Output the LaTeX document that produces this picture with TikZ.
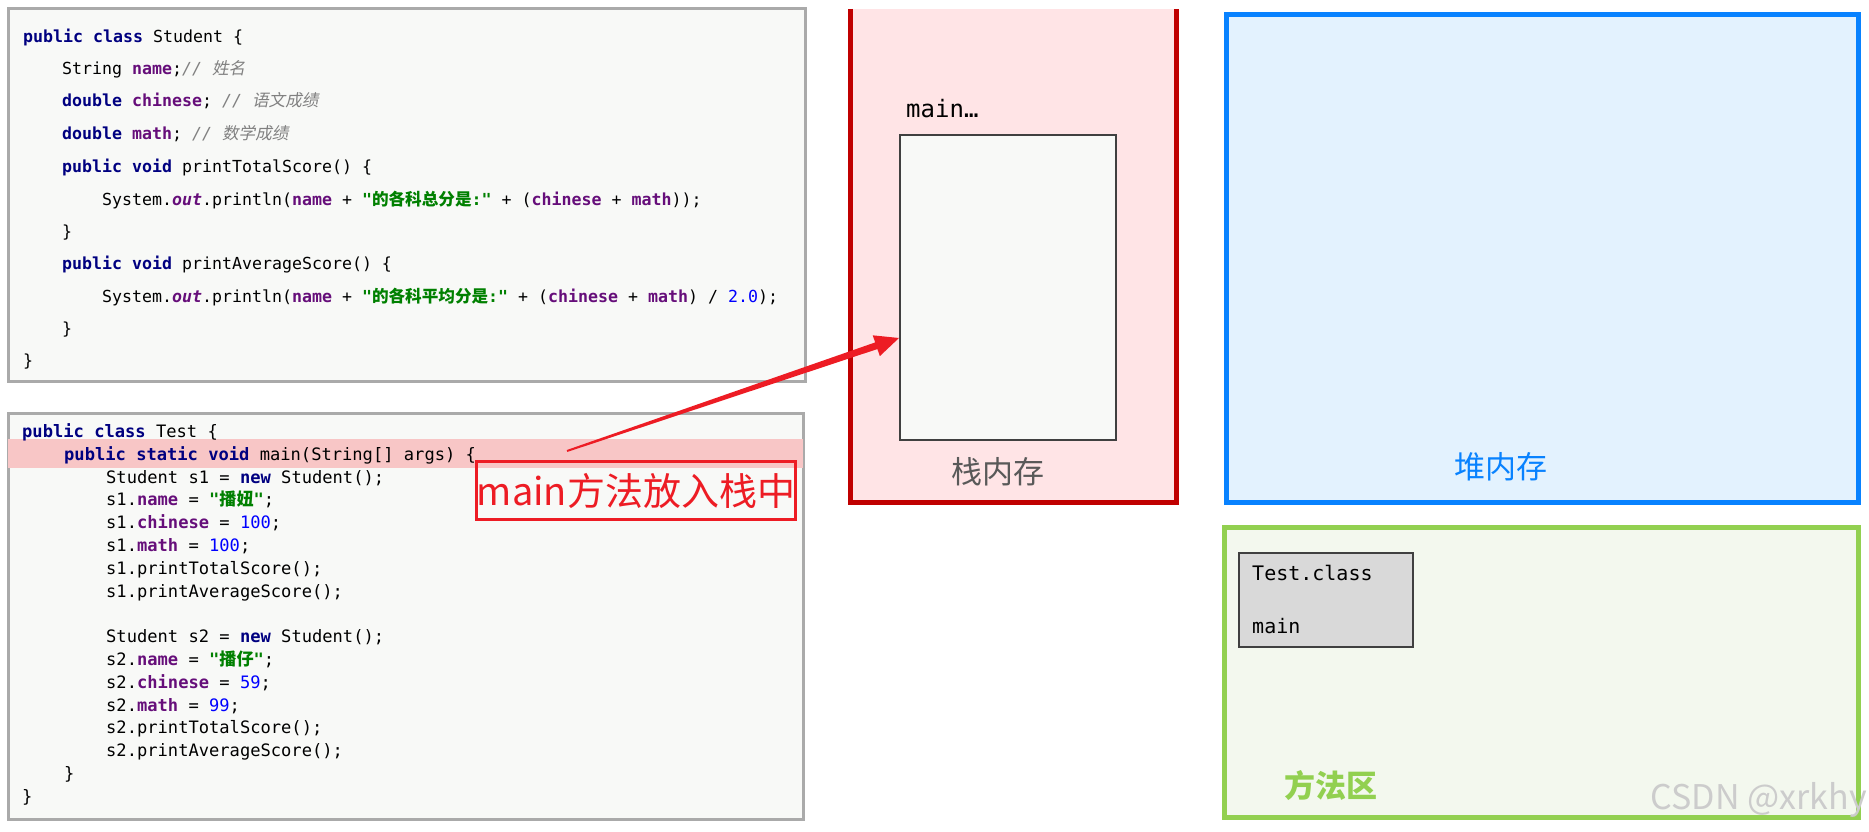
\documentclass[tikz,border=0pt]{standalone}
\usepackage{fontspec}
\usepackage{tikz}
\usetikzlibrary{arrows.meta, positioning, calc}

\newfontfamily\codefont{DejaVu Sans Mono}
\newfontfamily\cjk{Noto Sans CJK SC}
\newfontfamily\cjkslant[FakeSlant=0.2]{Noto Sans CJK SC}

\definecolor{kwnavy}{RGB}{0,0,128}
\definecolor{fldpurple}{RGB}{102,14,122}
\definecolor{strgreen}{RGB}{0,128,0}
\definecolor{numblue}{RGB}{0,0,255}
\definecolor{cmtgray}{RGB}{128,128,128}
\definecolor{codebg}{RGB}{248,249,247}
\definecolor{codeedge}{RGB}{170,170,170}
\definecolor{bandpink}{RGB}{248,198,198}
\definecolor{stackred}{RGB}{192,0,0}
\definecolor{stackfill}{RGB}{255,228,230}
\definecolor{stacktext}{RGB}{89,89,89}
\definecolor{heapblue}{RGB}{8,130,255}
\definecolor{heapfill}{RGB}{227,242,254}
\definecolor{methgreen}{RGB}{146,208,80}
\definecolor{methfill}{RGB}{243,248,238}
\definecolor{classgray}{RGB}{217,217,217}
\definecolor{frameedge}{RGB}{64,64,64}
\definecolor{arrowred}{RGB}{237,28,36}

% java highlighting
\newcommand{\jkw}[1]{\textcolor{kwnavy}{\bfseries #1}}
\newcommand{\jfld}[1]{\textcolor{fldpurple}{\bfseries #1}}
\newcommand{\jstr}[1]{\textcolor{strgreen}{\bfseries #1}}
\newcommand{\jnum}[1]{\textcolor{numblue}{#1}}
\newcommand{\jcmt}[1]{\textcolor{cmtgray}{\itshape #1}}
\newcommand{\zh}[1]{{\cjk #1}}
\newcommand{\zhit}[1]{{\cjkslant\upshape #1}}

\begin{document}
\begin{tikzpicture}[x=1pt, y=-1pt, every node/.style={inner sep=0pt},
  stucode/.style={anchor=base west, font=\codefont\fontsize{16.6}{18}\selectfont},
  tstcode/.style={anchor=base west, font=\codefont\fontsize{17.1}{19}\selectfont},
  memlabel/.style={font=\cjk\fontsize{31}{33}\selectfont}]
  \useasboundingbox (0,0) rectangle (1869,832);

  % Student.java
  \draw[codeedge, line width=3pt, fill=codebg] (8,9) rectangle (805,381);
  \node[stucode] (stu1) at (23,43) {\jkw{public class} Student \{};
  \node[stucode] (stu2) at (62,75) {String \jfld{name};\jcmt{// \zhit{姓名}}};
  \node[stucode] (stu3) at (62,107) {\jkw{double} \jfld{chinese}; \jcmt{// \zhit{语文成绩}}};
  \node[stucode] (stu4) at (62,140) {\jkw{double} \jfld{math}; \jcmt{// \zhit{数学成绩}}};
  \node[stucode] (stu5) at (62,172) {\jkw{public void} printTotalScore() \{};
  \node[stucode] (stu6) at (102,205) {System.\jfld{\itshape out}.println(\jfld{name} + \jstr{"\zh{的各科总分是}:"} + (\jfld{chinese} + \jfld{math}));};
  \node[stucode] (stu7) at (62,237) {\}};
  \node[stucode] (stu8) at (62,269) {\jkw{public void} printAverageScore() \{};
  \node[stucode] (stu9) at (102,302) {System.\jfld{\itshape out}.println(\jfld{name} + \jstr{"\zh{的各科平均分是}:"} + (\jfld{chinese} + \jfld{math}) / \jnum{2.0});};
  \node[stucode] (stu10) at (62,334) {\}};
  \node[stucode] (stu11) at (23,366) {\}};

  % Test.java
  \draw[codeedge, line width=3pt, fill=codebg] (8,413) rectangle (803,819);
  \fill[bandpink] (8,439) rectangle (803,468);
  \node[tstcode] (tst1) at (22,437.5) {\jkw{public class} Test \{};
  \node[tstcode] (tst2) at (64,460.3) {\jkw{public static void} main(String[] args) \{};
  \node[tstcode] (tst3) at (106,483.1) {Student s1 = \jkw{new} Student();};
  \node[tstcode] (tst4) at (106,505.9) {s1.\jfld{name} = \jstr{"\zh{播妞}"};};
  \node[tstcode] (tst5) at (106,528.7) {s1.\jfld{chinese} = \jnum{100};};
  \node[tstcode] (tst6) at (106,551.5) {s1.\jfld{math} = \jnum{100};};
  \node[tstcode] (tst7) at (106,574.3) {s1.printTotalScore();};
  \node[tstcode] (tst8) at (106,597.1) {s1.printAverageScore();};
  \node[tstcode] (tst10) at (106,642.7) {Student s2 = \jkw{new} Student();};
  \node[tstcode] (tst11) at (106,665.5) {s2.\jfld{name} = \jstr{"\zh{播仔}"};};
  \node[tstcode] (tst12) at (106,688.3) {s2.\jfld{chinese} = \jnum{59};};
  \node[tstcode] (tst13) at (106,711.1) {s2.\jfld{math} = \jnum{99};};
  \node[tstcode] (tst14) at (106,733.9) {s2.printTotalScore();};
  \node[tstcode] (tst15) at (106,756.7) {s2.printAverageScore();};
  \node[tstcode] (tst16) at (64,779.5) {\}};
  \node[tstcode] (tst17) at (22,802.3) {\}};

  % note
  \node[draw=arrowred, line width=3pt, text=arrowred, anchor=north west,
        minimum width=319pt, minimum height=58pt,
        font=\cjk\fontsize{38}{40}\selectfont] (tag) at (475,460) {main方法放入栈中};

  % stack
  \fill[stackfill] (850,9) rectangle (1176,502);
  \draw[stackred, line width=5pt] (850,9) -- (850,502) -- (1176,502) -- (1176,9);
  \node[anchor=base west, font=\codefont\fontsize{24}{26}\selectfont] (mainlbl) at (906,118) {main…};
  \node[draw=frameedge, line width=2pt, fill=codebg, anchor=north west,
        minimum width=216pt, minimum height=305pt] (frame) at (899,134) {};
  \node[memlabel, text=stacktext] (stacklbl) at (998,472) {栈内存};

  % heap
  \draw[heapblue, line width=5pt, fill=heapfill] (1226,15) rectangle (1858,502);
  \node[memlabel, text=heapblue] (heaplbl) at (1501,467) {堆内存};

  % method area
  \draw[methgreen, line width=5pt, fill=methfill] (1224,527) rectangle (1858,817);
  \node[draw=frameedge, line width=2pt, fill=classgray, anchor=north west,
        minimum width=174pt, minimum height=94pt] (tclass) at (1238,552) {};
  \node[anchor=base west, font=\codefont\fontsize{20}{22}\selectfont] (tclassname) at (1252,580) {Test.class};
  \node[anchor=base west, font=\codefont\fontsize{20}{22}\selectfont] (tclassmain) at (1252,633) {main};
  \node[text=methgreen, font=\cjk\bfseries\fontsize{31}{33}\selectfont] (methlbl) at (1331,786) {方法区};
  \node[anchor=east, text=gray!40, font=\cjk\fontsize{34}{36}\selectfont] (mark) at (1867,800) {CSDN @xrkhy};

  % arrow
  \coordinate (tail) at (567,451);
  \coordinate (tip) at ([yshift=-50.5pt]frame.west);
  \coordinate (hbase) at ($(tip)!24pt!(tail)$);
  \fill[arrowred] ($(tail)!1pt!90:(hbase)$) -- ($(hbase)!3.5pt!-90:(tail)$)
    -- ($(hbase)!11pt!-90:(tail)$) -- (tip) -- ($(hbase)!11pt!90:(tail)$)
    -- ($(hbase)!3.5pt!90:(tail)$) -- ($(tail)!1pt!-90:(hbase)$) -- cycle;
\end{tikzpicture}
\end{document}
